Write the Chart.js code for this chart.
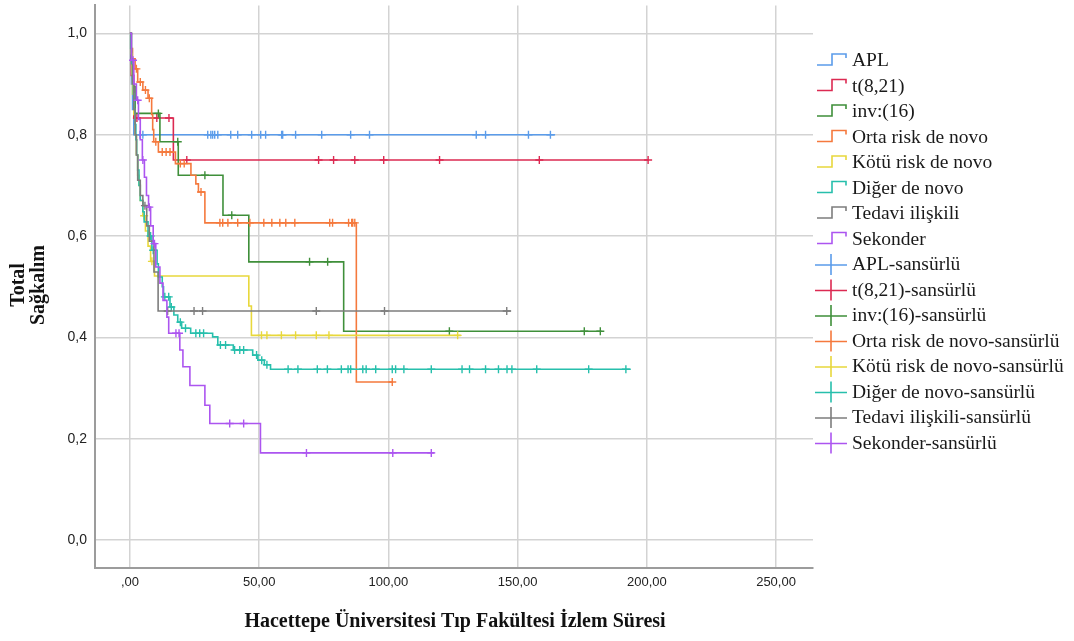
<!DOCTYPE html>
<html>
<head>
<meta charset="utf-8">
<script src="https://cdn.jsdelivr.net/npm/chart.js@4.4.1/dist/chart.umd.min.js"></script>
<style>
html,body{margin:0;padding:0;background:#fff;}
#wrap{width:1074px;height:641px;position:relative;}
</style>
</head>
<body>
<div id="wrap"><canvas id="c" width="1074" height="641"></canvas></div>
<script>
// ---- Data ----
const groupNames = ['APL','t(8,21)','inv:(16)','Orta risk de novo','Kötü risk de novo','Diğer de novo','Tedavi ilişkili','Sekonder'];
const groupColors = ['#5b9cea','#dc2a52','#3f8f3a','#f5793d','#e8d83c','#27bfac','#7d7d7d','#ac55f0'];
const censoredSuffix = '-sansürlü';

const xTicks = [0, 50, 100, 150, 200, 250];
const xTickLabels = [',00', '50,00', '100,00', '150,00', '200,00', '250,00'];
const yTicks = [0, 0.2, 0.4, 0.6, 0.8, 1.0];
const yTickLabels = ['0,0', '0,2', '0,4', '0,6', '0,8', '1,0'];

// APL
const aplTime = [0, 0.3, 0.6, 1.0, 1.5, 164.5];
const aplSurv = [1, 0.95, 0.9, 0.85, 0.8, 0.8];
const aplCensor = [3.9, 5.0, 30.1, 31.3, 32.0, 32.8, 34.0, 39.0, 41.7, 47.1, 50.6, 52.5, 58.7, 59.1, 64.1, 74.2, 85.4, 92.7, 134.0, 137.6, 154.2, 162.7];

// t(8,21)
const t821Time = [0, 0.5, 1.5, 16.8, 200.5];
const t821Surv = [1, 0.917, 0.833, 0.75, 0.75];
const t821Censor = [2.7, 10.4, 15.1, 22.0, 73.0, 78.8, 87.0, 98.2, 119.8, 158.4, 200.5];

// inv(16)
const inv16Time = [0, 0.6, 1.2, 2.0, 11.6, 18.7, 36.0, 46.0, 82.7, 182.5];
const inv16Surv = [1, 0.947, 0.895, 0.842, 0.786, 0.72, 0.641, 0.549, 0.412, 0.412];
const inv16Censor = [11.0, 18.5, 29.0, 39.4, 69.5, 76.5, 123.6, 175.8, 182.0];

// Orta risk de novo
const ortaTime = [0, 0.5, 1.0, 2.0, 3.0, 5.0, 7.0, 8.4, 8.8, 9.2, 11.0, 17.6, 23.6, 25.5, 26.5, 29.0, 87.6, 101.5];
const ortaSurv = [1, 0.97, 0.95, 0.93, 0.904, 0.888, 0.872, 0.84, 0.81, 0.786, 0.766, 0.743, 0.72, 0.703, 0.687, 0.626, 0.312, 0.312];
const ortaCensor = [2.5, 4.0, 6.0, 7.5, 10.0, 12.5, 14.0, 15.5, 19.5, 21.0, 27.5, 34.8, 35.9, 37.9, 41.7, 46.4, 51.8, 54.9, 58.0, 60.3, 63.8, 77.3, 78.4, 84.6, 85.8, 86.2, 87.0, 101.5];

// Kötü risk de novo
const kotuTime = [0, 0.3, 0.7, 1.0, 1.5, 2.0, 2.5, 3.0, 3.5, 4.0, 5.0, 6.0, 7.0, 8.0, 9.5, 46.0, 47.0, 128.0];
const kotuSurv = [1, 0.96, 0.92, 0.88, 0.84, 0.80, 0.76, 0.72, 0.70, 0.67, 0.64, 0.61, 0.58, 0.55, 0.521, 0.462, 0.404, 0.404];
const kotuCensor = [5.5, 8.5, 50.9, 53.0, 58.6, 64.1, 72.1, 77.0, 126.8];

// Diğer de novo
const digerTime = [0, 0.3, 0.6, 1.0, 1.3, 1.6, 2.0, 2.3, 2.6, 3.0, 3.5, 4.0, 5.0, 5.5, 7.0, 8.5, 10.5, 11.0, 12.5, 13.0, 15.5, 17.0, 18.5, 20.0, 23.5, 32.0, 34.0, 40.0, 47.5, 49.5, 52.0, 54.4, 193.8];
const digerSurv = [1, 0.97, 0.94, 0.91, 0.88, 0.85, 0.82, 0.79, 0.76, 0.73, 0.70, 0.67, 0.648, 0.628, 0.60, 0.572, 0.545, 0.519, 0.50, 0.48, 0.46, 0.444, 0.43, 0.418, 0.408, 0.401, 0.385, 0.375, 0.365, 0.355, 0.346, 0.337, 0.337];
const digerCensor = [8.0, 9.0, 13.5, 15.0, 16.0, 19.5, 21.5, 25.5, 27.0, 28.5, 35.0, 37.0, 40.5, 42.5, 44.0, 49.0, 51.0, 53.0, 61.2, 65.0, 72.5, 76.4, 81.8, 84.4, 85.4, 90.1, 91.4, 95.1, 101.5, 102.8, 106.0, 116.6, 128.5, 131.4, 137.6, 142.6, 145.9, 147.8, 157.4, 177.5, 191.9];

// Tedavi ilişkili
const tedaviTime = [0, 0.5, 1.0, 1.5, 2.0, 2.5, 3.0, 4.0, 5.0, 6.5, 7.5, 9.3, 10.9, 147.5];
const tedaviSurv = [1, 0.95, 0.9, 0.85, 0.80, 0.76, 0.71, 0.68, 0.66, 0.62, 0.59, 0.529, 0.452, 0.452];
const tedaviCensor = [5.8, 14.6, 24.8, 28.1, 72.1, 98.5, 145.8];

// Sekonder
const sekTime = [0, 0.6, 1.5, 2.5, 3.3, 4.0, 4.8, 5.6, 6.4, 7.2, 8.0, 9.0, 10.0, 11.6, 12.8, 14.3, 15.0, 19.3, 20.5, 23.2, 29.0, 30.9, 50.5, 117.8];
const sekSurv = [1, 0.947, 0.90, 0.868, 0.83, 0.79, 0.75, 0.716, 0.68, 0.657, 0.62, 0.585, 0.539, 0.507, 0.473, 0.44, 0.408, 0.375, 0.342, 0.305, 0.266, 0.230, 0.172, 0.172];
const sekCensor = [1.2, 3.0, 5.0, 7.5, 9.5, 17.8, 19.0, 38.6, 44.0, 68.3, 101.7, 116.6];

// ---- Build datasets ----
const groups = [
  [aplTime, aplSurv, aplCensor],
  [t821Time, t821Surv, t821Censor],
  [inv16Time, inv16Surv, inv16Censor],
  [ortaTime, ortaSurv, ortaCensor],
  [kotuTime, kotuSurv, kotuCensor],
  [digerTime, digerSurv, digerCensor],
  [tedaviTime, tedaviSurv, tedaviCensor],
  [sekTime, sekSurv, sekCensor]
];

function survivalAt(T, S, t) {
  let v = S[0];
  for (let i = 0; i < T.length; i++) { if (T[i] <= t) v = S[i]; }
  return v;
}

const lineSets = groups.map((g, i) => ({
  label: groupNames[i],
  data: g[0].map((t, k) => ({x: t, y: g[1][k]})),
  borderColor: groupColors[i],
  backgroundColor: groupColors[i],
  borderWidth: 1.6,
  pointRadius: 0,
  stepped: true,
  fill: false,
  showLine: true,
  order: 8 - i
}));
const censorSets = groups.map((g, i) => ({
  label: groupNames[i] + censoredSuffix,
  data: g[2].map(t => ({x: t, y: survivalAt(g[0], g[1], t)})),
  borderColor: groupColors[i],
  backgroundColor: groupColors[i],
  borderWidth: 1.4,
  pointStyle: 'cross',
  pointRadius: 4,
  showLine: false,
  order: 8 - i
}));

const titlePlugin = {
  id: 'extras',
  afterDraw(chart) {
    const ctx = chart.ctx;
    ctx.save();
    // x title
    ctx.fillStyle = '#111';
    ctx.font = 'bold 20px "Liberation Serif", "DejaVu Serif", serif';
    ctx.textAlign = 'center';
    ctx.textBaseline = 'middle';
    ctx.fillText('Hacettepe Üniversitesi Tıp Fakültesi İzlem Süresi', 455, 622);
    // y title
    ctx.save();
    ctx.translate(19, 285);
    ctx.rotate(-Math.PI / 2);
    ctx.fillText('Total', 0, 0);
    ctx.restore();
    ctx.save();
    ctx.translate(39, 285);
    ctx.rotate(-Math.PI / 2);
    ctx.fillText('Sağkalım', 0, 0);
    ctx.restore();
    // legend
    ctx.font = '19.5px "Liberation Serif", "DejaVu Serif", serif';
    ctx.textAlign = 'left';
    const all = lineSets.concat(censorSets);
    all.forEach((ds, i) => {
      const cy = 61 + i * 25.5;
      const col = groupColors[i % 8];
      ctx.strokeStyle = col;
      ctx.lineWidth = 1.6;
      ctx.beginPath();
      if (i < 8) {
        ctx.moveTo(817, cy + 4);
        ctx.lineTo(832, cy + 4);
        ctx.lineTo(832, cy - 7);
        ctx.lineTo(846, cy - 7);
        ctx.lineTo(846, cy - 3);
      } else {
        ctx.moveTo(815, cy);
        ctx.lineTo(847, cy);
        ctx.moveTo(831, cy - 11);
        ctx.lineTo(831, cy + 10);
      }
      ctx.stroke();
      ctx.fillStyle = '#1a1a1a';
      ctx.fillText(ds.label, 852, cy);
    });
    ctx.restore();
  }
};

new Chart(document.getElementById('c'), {
  type: 'line',
  data: { datasets: lineSets.concat(censorSets) },
  options: {
    responsive: false,
    animation: false,
    devicePixelRatio: 1,
    layout: { padding: { left: 0, right: 261, top: 5, bottom: 0 } },
    plugins: { legend: { display: false }, tooltip: { enabled: false } },
    events: [],
    scales: {
      x: {
        type: 'linear',
        min: -13.52,
        max: 264.3,
        afterFit: s => { s.height = 73; s.paddingLeft = 0; s.paddingRight = 0; },
        afterBuildTicks: s => { s.ticks = xTicks.map(v => ({value: v})); },
        ticks: {
          padding: 7,
          color: '#222',
          font: { family: '"Liberation Sans Narrow", "Liberation Sans", Arial, sans-serif', size: 13 },
          maxRotation: 0,
          autoSkip: false,
          callback: (v) => xTickLabels[xTicks.indexOf(v)]
        },
        grid: { color: '#d3d3d3', lineWidth: 1.5, drawTicks: false },
        border: { display: true, color: '#9c9c9c', width: 2 }
      },
      y: {
        type: 'linear',
        min: -0.0552,
        max: 1.0552,
        afterFit: s => { s.width = 95; s.paddingTop = 0; s.paddingBottom = 0; },
        afterBuildTicks: s => { s.ticks = yTicks.map(v => ({value: v})); },
        ticks: {
          padding: 8,
          color: '#222',
          font: { family: '"Liberation Sans", Arial, sans-serif', size: 14 },
          autoSkip: false,
          callback: (v) => yTickLabels[yTicks.indexOf(v)]
        },
        grid: { color: '#d3d3d3', lineWidth: 1.5, drawTicks: false },
        border: { display: true, color: '#9c9c9c', width: 2 }
      }
    }
  },
  plugins: [titlePlugin]
});
</script>
</body>
</html>
